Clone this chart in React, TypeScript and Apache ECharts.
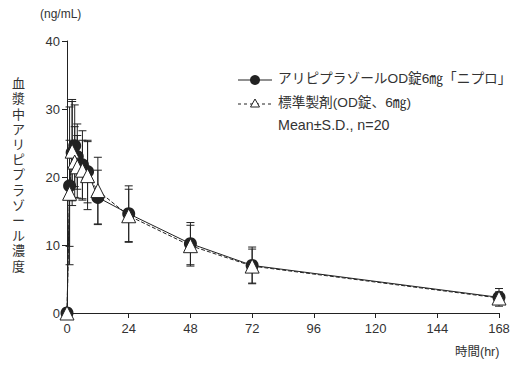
import React, { useEffect, useRef } from "react";
import * as echarts from "echarts";

const times = [0, 1, 2, 3, 4, 6, 8, 12, 24, 48, 72, 168];
const genericMean = [0, 18.7, 23.6, 24.6, 23.0, 21.8, 20.8, 17.0, 14.6, 10.2, 7.0, 2.3];
const genericSD = [0, 11.6, 7.8, 6.0, 4.8, 5.0, 4.6, 4.0, 4.1, 3.1, 2.7, 1.3];
const refMean = [0, 17.6, 23.8, 22.2, 21.5, 21.0, 20.2, 18.0, 14.3, 9.9, 6.9, 2.2];
const refSD = [0, 7.8, 7.3, 5.2, 4.6, 4.4, 5.0, 4.9, 3.9, 3.0, 2.5, 0.9];
const xTicks = { min: 0, max: 168, interval: 24 };
const yTicks = { min: 0, max: 40, interval: 10 };

const genericName = "アリピプラゾールOD錠6㎎「ニプロ」";
const refName = "標準製剤(OD錠、6㎎)";
const noteText = "Mean±S.D., n=20";
const yTitle = "血漿中アリピプラゾール濃度";
const yUnit = "(ng/mL)";
const xTitle = "時間(hr)";

const FONT = "'Liberation Sans', 'Noto Sans CJK JP', sans-serif";
const INK = "#222";

function errData(mean: number[], sd: number[]) {
  return times.map((t, i) => [t, mean[i] - sd[i], mean[i] + sd[i]]);
}

function errSeries(mean: number[], sd: number[]) {
  return {
    type: "custom",
    data: errData(mean, sd),
    z: 1,
    silent: true,
    renderItem: (params: any, api: any) => {
      const x = api.value(0);
      const lo = api.coord([x, api.value(1)]);
      const hi = api.coord([x, api.value(2)]);
      const w = 4;
      const st = { stroke: INK, lineWidth: 1 };
      return {
        type: "group",
        children: [
          { type: "line", shape: { x1: hi[0], y1: hi[1], x2: lo[0], y2: lo[1] }, style: st },
          { type: "line", shape: { x1: hi[0] - w, y1: hi[1], x2: hi[0] + w, y2: hi[1] }, style: st },
          { type: "line", shape: { x1: lo[0] - w, y1: lo[1], x2: lo[0] + w, y2: lo[1] }, style: st },
        ],
      };
    },
  };
}

export default function App() {
  const ref = useRef<HTMLDivElement>(null);
  useEffect(() => {
    if (!ref.current) return;
    const chart = echarts.init(ref.current, null, { renderer: "svg" });
    const vertTitle = yTitle.split("").join("\n");
    chart.setOption({
      animation: false,
      backgroundColor: "#fff",
      textStyle: { fontFamily: FONT },
      grid: { left: 67, right: 25, top: 41, bottom: 57, containLabel: false },
      xAxis: {
        type: "value",
        ...xTicks,
        axisLine: { lineStyle: { color: INK, width: 1 } },
        axisTick: { show: true, length: 5, lineStyle: { color: INK } },
        axisLabel: { color: "#333", fontSize: 13, margin: 9, fontFamily: FONT },
        splitLine: { show: false },
      },
      yAxis: {
        type: "value",
        ...yTicks,
        axisLine: { show: true, lineStyle: { color: INK, width: 1 } },
        axisTick: { show: true, length: 5, lineStyle: { color: INK } },
        axisLabel: { color: "#333", fontSize: 13, margin: 7, fontFamily: FONT },
        splitLine: { show: false },
      },
      graphic: [
        { type: "text", left: 40, top: 8, style: { text: yUnit, fontSize: 12, fill: "#333", fontFamily: FONT } },
        {
          type: "text",
          left: 12,
          top: 76,
          style: { text: vertTitle, fontSize: 13, lineHeight: 15.2, fill: "#333", fontFamily: FONT, align: "center" },
        },
        { type: "text", left: 455, top: 346, style: { text: xTitle, fontSize: 12.5, fill: "#333", fontFamily: FONT } },
        // legend
        { type: "line", shape: { x1: 238, y1: 80, x2: 272, y2: 80 }, style: { stroke: INK, lineWidth: 1.2 } },
        { type: "circle", shape: { cx: 255, cy: 80, r: 5 }, style: { fill: INK } },
        { type: "text", left: 278, top: 72, style: { text: genericName, fontSize: 13.7, fill: "#333", fontFamily: FONT } },
        { type: "line", shape: { x1: 238, y1: 104, x2: 272, y2: 104 }, style: { stroke: INK, lineWidth: 1, lineDash: [3, 3] } },
        {
          type: "polygon",
          shape: { points: [[255, 99], [250.5, 107], [259.5, 107]] },
          style: { fill: "#fff", stroke: INK, lineWidth: 1 },
        },
        { type: "text", left: 278, top: 96, style: { text: refName, fontSize: 13.7, fill: "#333", fontFamily: FONT } },
        { type: "text", left: 278, top: 118, style: { text: noteText, fontSize: 14.3, fill: "#333", fontFamily: FONT } },
      ],
      series: [
        errSeries(genericMean, genericSD),
        errSeries(refMean, refSD),
        {
          type: "line",
          name: genericName,
          data: times.map((t, i) => [t, genericMean[i]]),
          symbol: "circle",
          symbolSize: 13,
          itemStyle: { color: INK },
          lineStyle: { color: INK, width: 1 },
          z: 3,
        },
        {
          type: "line",
          name: refName,
          data: times.map((t, i) => [t, refMean[i]]),
          symbol: "triangle",
          symbolSize: 14,
          itemStyle: { color: "#fff", borderColor: INK, borderWidth: 1 },
          lineStyle: { color: INK, width: 1, type: [4, 2] },
          z: 4,
        },
      ],
    });
    return () => chart.dispose();
  }, []);
  return <div ref={ref} style={{ position: "fixed", left: 0, top: 0, width: 524, height: 370 }} />;
}
